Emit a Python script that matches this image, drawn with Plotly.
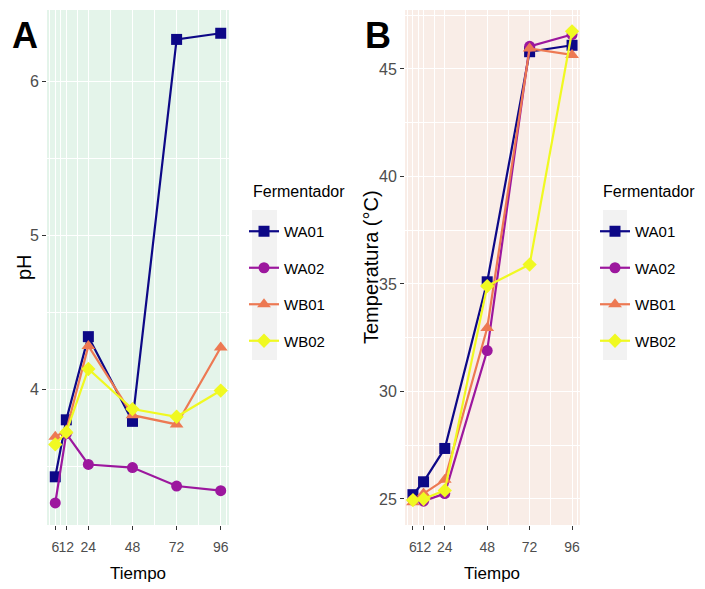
import plotly.graph_objects as go

# ---------------- data ----------------
tiempo = [6, 12, 24, 48, 72, 96]
fermentadores = ["WA01", "WA02", "WB01", "WB02"]

ph_WA01 = [3.43, 3.80, 4.34, 3.79, 6.27, 6.31]
ph_WA02 = [3.26, 3.71, 3.51, 3.49, 3.37, 3.34]
ph_WB01 = [3.69, 3.73, 4.28, 3.83, 3.77, 4.27]
ph_WB02 = [3.64, 3.72, 4.13, 3.87, 3.82, 3.99]

temp_WA01 = [25.2, 25.8, 27.35, 35.1, 45.8, 46.1]
temp_WA02 = [24.95, 24.9, 25.25, 31.9, 46.05, 46.6]
temp_WB01 = [24.85, 25.25, 25.9, 32.95, 45.95, 45.65]
temp_WB02 = [24.95, 25.0, 25.4, 34.9, 35.9, 46.75]

x_ticks = [6, 12, 24, 48, 72, 96]
x_minor = [3, 9, 18, 36, 60, 84, 99]
ph_ticks = [4, 5, 6]
ph_minor = [3.5, 4.5, 5.5]
temp_ticks = [25, 30, 35, 40, 45]
temp_minor = [27.5, 32.5, 37.5, 42.5, 47.5]

# ---------------- styles ----------------
colors = ["#0D0887", "#9C179E", "#ED7953", "#F0F921"]
symbols = ["square", "circle", "triangle-up", "diamond"]
msizes = [11, 11, 12, 11]

W, H = 705, 589
NARROW = "Liberation Sans Narrow, Arial Narrow, Liberation Sans, Arial, sans-serif"
REG = "Liberation Sans, Arial, sans-serif"

def px_x(p):
    return p / W

def px_y(p):
    return 1 - p / H

fig = go.Figure()

ph_data = [ph_WA01, ph_WA02, ph_WB01, ph_WB02]
temp_data = [temp_WA01, temp_WA02, temp_WB01, temp_WB02]

for i, name in enumerate(fermentadores):
    fig.add_trace(go.Scatter(
        x=tiempo, y=ph_data[i], name=name, mode="lines+markers",
        line=dict(color=colors[i], width=2.2),
        marker=dict(color=colors[i], symbol=symbols[i], size=msizes[i]),
        xaxis="x", yaxis="y", legend="legend", legendgroup="a" + name,
    ))
for i, name in enumerate(fermentadores):
    fig.add_trace(go.Scatter(
        x=tiempo, y=temp_data[i], name=name, mode="lines+markers",
        line=dict(color=colors[i], width=2.2),
        marker=dict(color=colors[i], symbol=symbols[i], size=msizes[i]),
        xaxis="x2", yaxis="y2", legend="legend2", legendgroup="b" + name,
    ))

ydom = [px_y(525), px_y(10)]

def xaxis(dom, anchor):
    return dict(
        domain=dom, anchor=anchor, range=[1.5, 100.5],
        tickvals=x_ticks, ticktext=[str(v) for v in x_ticks], tickangle=0,
        showgrid=True, gridcolor="white", gridwidth=1.1,
        minor=dict(tickvals=x_minor, showgrid=True, gridcolor="white", gridwidth=0.5, ticks=""),
        ticks="outside", ticklen=4, tickcolor="#333333", tickwidth=1,
        ticklabelstandoff=5,
        tickfont=dict(family=NARROW, size=14, color="#4D4D4D"),
        zeroline=False, showline=False,
    )

def yaxis(dom, anchor, rng, tv, mv):
    return dict(
        domain=dom, anchor=anchor, range=rng,
        tickvals=tv, ticktext=[str(v) for v in tv],
        showgrid=True, gridcolor="white", gridwidth=1.1,
        minor=dict(tickvals=mv, showgrid=True, gridcolor="white", gridwidth=0.5, ticks=""),
        ticks="outside", ticklen=4, tickcolor="#333333", tickwidth=1,
        tickfont=dict(family=NARROW, size=16, color="#4D4D4D"),
        zeroline=False, showline=False,
    )

legend_common = dict(
    xanchor="left", yanchor="top", bgcolor="rgba(0,0,0,0)",
    font=dict(family=NARROW, size=15, color="black"),
    tracegroupgap=14, itemwidth=30, borderwidth=0,
)

fig.update_layout(
    width=W, height=H,
    margin=dict(l=0, r=0, t=0, b=0),
    paper_bgcolor="white",
    xaxis=xaxis([px_x(47), px_x(229)], "y"),
    yaxis=yaxis(ydom, "x", [3.117, 6.461], ph_ticks, ph_minor),
    xaxis2=xaxis([px_x(405), px_x(580)], "y2"),
    yaxis2=yaxis(ydom, "x2", [23.79, 47.74], temp_ticks, temp_minor),
    legend=dict(x=px_x(244), y=px_y(215), **legend_common),
    legend2=dict(x=px_x(595), y=px_y(215), **legend_common),
    showlegend=True,
)

# panel backgrounds and legend key backgrounds
shapes = [
    dict(type="rect", xref="x domain", yref="y domain", x0=0, x1=1, y0=0, y1=1,
         fillcolor="#E4F4EA", line=dict(width=0), layer="below"),
    dict(type="rect", xref="x2 domain", yref="y2 domain", x0=0, x1=1, y0=0, y1=1,
         fillcolor="#F9EDE7", line=dict(width=0), layer="below"),
    dict(type="rect", xref="paper", yref="paper", x0=px_x(252), x1=px_x(277),
         y0=px_y(360), y1=px_y(210), fillcolor="#F2F2F2", line=dict(width=0), layer="below"),
    dict(type="rect", xref="paper", yref="paper", x0=px_x(603), x1=px_x(627),
         y0=px_y(360), y1=px_y(210), fillcolor="#F2F2F2", line=dict(width=0), layer="below"),
]
fig.update_layout(shapes=shapes)

annotations = [
    dict(text="<b>A</b>", x=px_x(25), y=px_y(35), xref="paper", yref="paper",
         showarrow=False, font=dict(family=NARROW, size=36, color="black"),
         xanchor="center", yanchor="middle"),
    dict(text="<b>B</b>", x=px_x(378), y=px_y(35), xref="paper", yref="paper",
         showarrow=False, font=dict(family=NARROW, size=36, color="black"),
         xanchor="center", yanchor="middle"),
    dict(text="pH", x=px_x(24), y=px_y(267), xref="paper", yref="paper",
         showarrow=False, textangle=-90, font=dict(family=REG, size=20, color="black"),
         xanchor="center", yanchor="middle"),
    dict(text="Temperatura (°C)", x=px_x(371), y=px_y(267), xref="paper", yref="paper",
         showarrow=False, textangle=-90, font=dict(family=REG, size=20, color="black"),
         xanchor="center", yanchor="middle"),
    dict(text="Tiempo", x=px_x(138), y=px_y(573), xref="paper", yref="paper",
         showarrow=False, font=dict(family=NARROW, size=17, color="black"),
         xanchor="center", yanchor="middle"),
    dict(text="Tiempo", x=px_x(492), y=px_y(573), xref="paper", yref="paper",
         showarrow=False, font=dict(family=NARROW, size=17, color="black"),
         xanchor="center", yanchor="middle"),
    dict(text="Fermentador", x=px_x(251), y=px_y(192), xref="paper", yref="paper",
         showarrow=False, font=dict(family=NARROW, size=16, color="black"),
         xanchor="left", yanchor="middle"),
    dict(text="Fermentador", x=px_x(601), y=px_y(192), xref="paper", yref="paper",
         showarrow=False, font=dict(family=NARROW, size=16, color="black"),
         xanchor="left", yanchor="middle"),
]
fig.update_layout(annotations=annotations)

fig.write_html("out.html")
